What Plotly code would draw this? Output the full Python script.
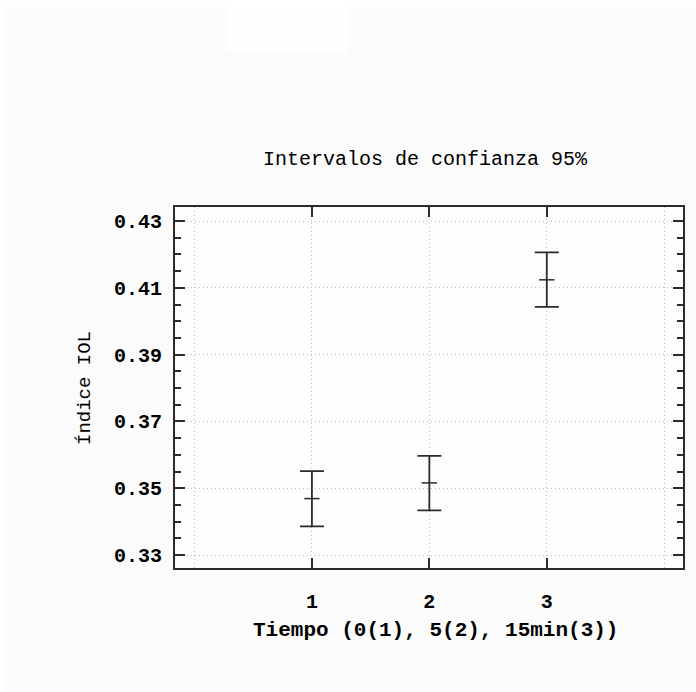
import plotly.graph_objects as go

# Data
tiempo = [1, 2, 3]
media = [0.3469, 0.3516, 0.4124]
limite_inf = [0.3386, 0.3434, 0.4043]
limite_sup = [0.3551, 0.3597, 0.4206]
y_ticks = [0.33, 0.35, 0.37, 0.39, 0.41, 0.43]
y_tick_text = ["0.33", "0.35", "0.37", "0.39", "0.41", "0.43"]
x_ticks = [1, 2, 3]
x_tick_text = ["1", "2", "3"]

err_plus = [u - m for u, m in zip(limite_sup, media)]
err_minus = [m - l for m, l in zip(media, limite_inf)]

W, H = 696, 692
L, R, T, B = 175, 13, 207, 124
pw, ph = W - L - R, H - T - B

def px(x):
    return (x - L) / pw

def py(y):
    return (H - B - y) / ph

ink = "#2b2b2b"
grid = "#bdbdbd"
dots = "1px,3px"
mono = "Liberation Mono, DejaVu Sans Mono, monospace"

fig = go.Figure()
fig.add_trace(go.Scatter(
    x=tiempo, y=media, mode="markers",
    marker=dict(symbol="line-ew", size=11, line=dict(color=ink, width=1.5), color=ink),
    error_y=dict(type="data", symmetric=False, array=err_plus, arrayminus=err_minus,
                 color=ink, thickness=1.8, width=12),
    showlegend=False, hoverinfo="x+y",
))

fig.update_layout(
    width=W, height=H,
    margin=dict(l=L, r=R, t=T, b=B, pad=0),
    paper_bgcolor="#fbfbfb",
    plot_bgcolor="#fdfdfd",
    font=dict(family=mono, color="#000000", size=19),
    xaxis=dict(
        range=[-0.166, 4.16],
        tickvals=x_ticks, ticktext=x_tick_text,
        ticks="inside", ticklen=10, tickwidth=1.5, tickcolor=ink,
        showline=True, linecolor=ink, linewidth=2, mirror="ticks",
        showgrid=True, gridcolor=grid, griddash=dots, gridwidth=1,
        minor=dict(tickvals=[0, 4], showgrid=True, gridcolor=grid, griddash=dots, ticks=""),
        zeroline=False,
        tickfont=dict(family=mono, size=20, color="#000000", weight="bold"),
        ticklabelstandoff=14,
    ),
    yaxis=dict(
        range=[0.32612, 0.4342],
        tickvals=y_ticks, ticktext=y_tick_text,
        ticks="inside", ticklen=10, tickwidth=1.5, tickcolor=ink,
        showline=True, linecolor=ink, linewidth=2, mirror="ticks",
        showgrid=True, gridcolor=grid, griddash=dots, gridwidth=1,
        minor=dict(dtick=0.005, tick0=0.33, ticks="inside", ticklen=6, tickwidth=1.5, tickcolor=ink, showgrid=False),
        zeroline=False,
        tickfont=dict(family=mono, size=20, color="#000000", weight="bold"),
        ticklabelstandoff=7,
    ),
    shapes=[
        dict(type="rect", xref="paper", yref="paper", x0=px(0), x1=px(696), y0=py(0), y1=py(7),
             fillcolor="white", line=dict(width=0), layer="below"),
        dict(type="rect", xref="paper", yref="paper", x0=px(0), x1=px(4), y0=py(0), y1=py(692),
             fillcolor="white", line=dict(width=0), layer="below"),
        dict(type="rect", xref="paper", yref="paper", x0=px(226), x1=px(348), y0=py(7), y1=py(53),
             fillcolor="#fefefe", line=dict(width=0), layer="below"),
    ],
    annotations=[
        dict(text="Intervalos de confianza 95%", xref="paper", yref="paper",
             x=px(425.5), y=py(160), xanchor="center", yanchor="middle", showarrow=False,
             font=dict(family=mono, size=20, color="#000000")),
        dict(text="Tiempo (0(1), 5(2), 15min(3))", xref="paper", yref="paper",
             x=px(435), y=py(630), xanchor="center", yanchor="middle", showarrow=False,
             font=dict(family=mono, size=21, color="#000000", weight="bold")),
        dict(text="Índice IOL", xref="paper", yref="paper",
             x=px(85), y=py(388), xanchor="center", yanchor="middle", showarrow=False,
             textangle=-90, font=dict(family=mono, size=19, color="#000000")),
    ],
)

fig.write_html("out.html")
